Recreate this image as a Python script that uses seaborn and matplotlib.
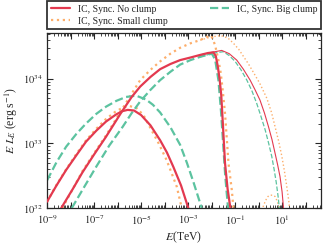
import numpy as np
import pandas as pd
import seaborn as sns
import matplotlib
matplotlib.use("Agg")
import matplotlib.pyplot as plt

# values, stored as log10(E / TeV) and log10(E L_E / erg s^-1)

# No clump (red, solid)
red_hump_x = [-9.0, -8.6, -8.19, -7.75, -7.34, -6.9, -6.49, -6.06, -5.8, -5.57, -5.3, -5.0, -4.6, -4.19, -3.9, -3.63, -3.3, -2.99]
red_hump_y = [32.1, 32.35, 32.59, 32.82, 33.03, 33.2, 33.34, 33.45, 33.5, 33.52, 33.51, 33.44, 33.28, 33.05, 32.86, 32.64, 32.35, 32.0]
red_main_x = [-8.4, -7.9, -7.5, -7.0, -6.5, -5.86, -5.4, -5.04, -4.6, -4.19, -3.75, -3.34, -2.9, -2.49, -2.15, -1.92,
              -1.82, -1.74, -1.66, -1.59, -1.52, -1.43, -1.32, -1.2]
red_main_y = [32.0, 32.3, 32.55, 32.83, 33.1, 33.47, 33.72, 33.88, 34.03, 34.15, 34.23, 34.29, 34.33, 34.37, 34.4, 34.41,
              34.35, 34.2, 34.0, 33.75, 33.3, 32.7, 32.3, 32.0]
red_thin_x = [-2.49, -2.0, -1.57, -1.25, -0.93, -0.65, -0.36, -0.15, 0.06, 0.25, 0.42, 0.57, 0.70, 0.81, 0.91, 1.0, 1.06]
red_thin_y = [34.37, 34.41, 34.44, 34.39, 34.29, 34.15, 33.98, 33.83, 33.67, 33.47, 33.26, 33.06, 32.85, 32.67, 32.49, 32.25, 32.0]

# Small clump (orange, dotted)
orange_hump_x = [-9.0, -8.6, -8.19, -7.75, -7.34, -6.9, -6.49, -6.1, -5.8, -5.5, -5.2, -4.9, -4.62, -4.25, -3.91, -3.48, -3.27]
orange_hump_y = [32.1, 32.36, 32.6, 32.84, 33.05, 33.23, 33.38, 33.49, 33.55, 33.58, 33.55, 33.44, 33.25, 33.0, 32.74, 32.33, 32.0]
orange_main_x = [-8.35, -7.9, -7.5, -7.0, -6.5, -5.86, -5.4, -5.04, -4.6, -4.19, -3.75, -3.34, -2.9, -2.49, -2.2, -2.0,
                 -1.85, -1.71, -1.61, -1.52, -1.43, -1.28, -1.14, -1.07]
orange_main_y = [32.0, 32.3, 32.57, 32.85, 33.12, 33.5, 33.77, 33.98, 34.14, 34.27, 34.39, 34.48, 34.55, 34.6, 34.65, 34.66,
                 34.52, 34.29, 34.09, 33.8, 33.47, 32.69, 32.28, 32.0]
orange_thin_x = [-2.49, -2.0, -1.6, -1.3, -1.07, -0.85, -0.65, -0.43, -0.22, 0.05, 0.35, 0.55, 0.70, 0.85, 0.99, 1.1, 1.2, 1.27, 1.32]
orange_thin_y = [34.6, 34.65, 34.67, 34.63, 34.55, 34.46, 34.35, 34.23, 34.1, 33.93, 33.7, 33.48, 33.26, 33.04, 32.8, 32.57, 32.33, 32.15, 32.0]
orange_bump_x = [0.1, 0.2, 0.3, 0.4, 0.5, 0.6, 0.7, 0.8, 0.88, 0.95]
orange_bump_y = [31.85, 32.03, 32.12, 32.18, 32.2, 32.2, 32.18, 32.1, 32.0, 31.88]

# Big clump (green, dashed)
green_hump_x = [-9.0, -8.6, -8.19, -7.75, -7.34, -6.9, -6.49, -6.05, -5.64, -5.21, -4.79, -4.5, -4.19, -3.75, -3.34, -3.05, -2.77, -2.42]
green_hump_y = [32.43, 32.71, 32.95, 33.15, 33.31, 33.46, 33.57, 33.66, 33.72, 33.74, 33.68, 33.6, 33.48, 33.25, 32.98, 32.7, 32.4, 32.0]
green_main_x = [-7.95, -7.4, -6.91, -6.35, -5.78, -5.4, -5.04, -4.6, -4.19, -3.75, -3.34, -2.9, -2.49, -2.2, -1.99,
                -1.85, -1.71, -1.6, -1.5, -1.42, -1.3]
green_main_y = [32.0, 32.34, 32.64, 32.97, 33.26, 33.47, 33.65, 33.83, 33.98, 34.11, 34.22, 34.29, 34.34, 34.37, 34.39,
                34.3, 33.98, 33.5, 32.95, 32.5, 32.0]
green_thin_x = [-2.49, -1.9, -1.5, -1.25, -1.0, -0.75, -0.5, -0.28, -0.08, 0.1, 0.28, 0.43, 0.56, 0.66, 0.75, 0.83, 0.88]
green_thin_y = [34.34, 34.4, 34.42, 34.36, 34.27, 34.14, 33.98, 33.81, 33.62, 33.42, 33.21, 33.0, 32.8, 32.6, 32.4, 32.18, 32.0]

labels = ["IC, Sync. No clump", "IC, Sync. Small clump", "IC, Sync. Big clump"]
xtick_pow = list(range(-9, 3))
ytick_pow = [32, 33, 34]

sns.set_style("ticks")
plt.rcParams["font.family"] = ["Liberation Serif", "DejaVu Serif"]
plt.rcParams["mathtext.fontset"] = "stix"

fig = plt.figure(figsize=(3.27, 2.46), dpi=100)
ax = fig.add_axes([0.144, 0.154, 0.838, 0.712])

red, orange, green = "#e3394f", "#fdae6b", "#5cc3a0"

curves = [
    (red_hump_x, red_hump_y, red, "-", 1.6, labels[0]),
    (red_main_x, red_main_y, red, "-", 1.6, None),
    (red_thin_x, red_thin_y, red, "-", 0.8, None),
    (orange_hump_x, orange_hump_y, orange, ":", 1.6, labels[1]),
    (orange_main_x, orange_main_y, orange, ":", 1.6, None),
    (orange_thin_x, orange_thin_y, orange, ":", 1.0, None),
    (orange_bump_x, orange_bump_y, orange, ":", 1.0, None),
    (green_hump_x, green_hump_y, green, "--", 1.6, labels[2]),
    (green_main_x, green_main_y, green, "--", 1.6, None),
    (green_thin_x, green_thin_y, green, "--", 0.9, None),
]
zorders = {red: 3, orange: 2, green: 2}

for xs, ys, c, ls, lw, lab in curves:
    df = pd.DataFrame({"E": np.power(10.0, xs), "L": np.power(10.0, ys)})
    sns.lineplot(data=df, x="E", y="L", ax=ax, color=c, linestyle=ls,
                 linewidth=lw, label=lab, legend=False, zorder=zorders[c])

ax.set_xscale("log")
ax.set_yscale("log")
ax.set_xlim(1e-9, 10 ** 2.66)
ax.set_ylim(1e32, 10 ** 34.71)

ax.set_xticks([10.0 ** k for k in xtick_pow])
ax.set_xticklabels([f"$10^{{{k}}}$" if k % 2 else "" for k in xtick_pow])
ax.set_yticks([10.0 ** k for k in ytick_pow])
ax.set_yticklabels([f"$10^{{{k}}}$" for k in ytick_pow])
ax.xaxis.set_minor_locator(matplotlib.ticker.LogLocator(base=10, subs=np.arange(2, 10), numticks=30))
ax.xaxis.set_minor_formatter(matplotlib.ticker.NullFormatter())
ax.tick_params(which="both", direction="in", top=True, right=True, labelsize=7.5)
ax.tick_params(which="major", length=4, width=0.8)
ax.tick_params(which="minor", length=2, width=0.6)
for s in ax.spines.values():
    s.set_linewidth(0.9)

ax.set_xlabel("$E$(TeV)", fontsize=8.5, labelpad=2)
ax.set_ylabel("$E\\ L_E$ (erg s$^{-1}$)", fontsize=8.5, labelpad=2)

handles, labs = ax.get_legend_handles_labels()
leg = ax.legend(handles, labs, loc="lower left", bbox_to_anchor=(0.0, 1.02, 1.0, 0.15),
                mode="expand", ncol=2, fontsize=7, frameon=True, fancybox=False,
                handlelength=2.0, borderaxespad=0.0, labelspacing=0.3)
leg.get_frame().set_edgecolor("black")
leg.get_frame().set_linewidth(1.3)

fig.savefig("out.png", dpi=100)
